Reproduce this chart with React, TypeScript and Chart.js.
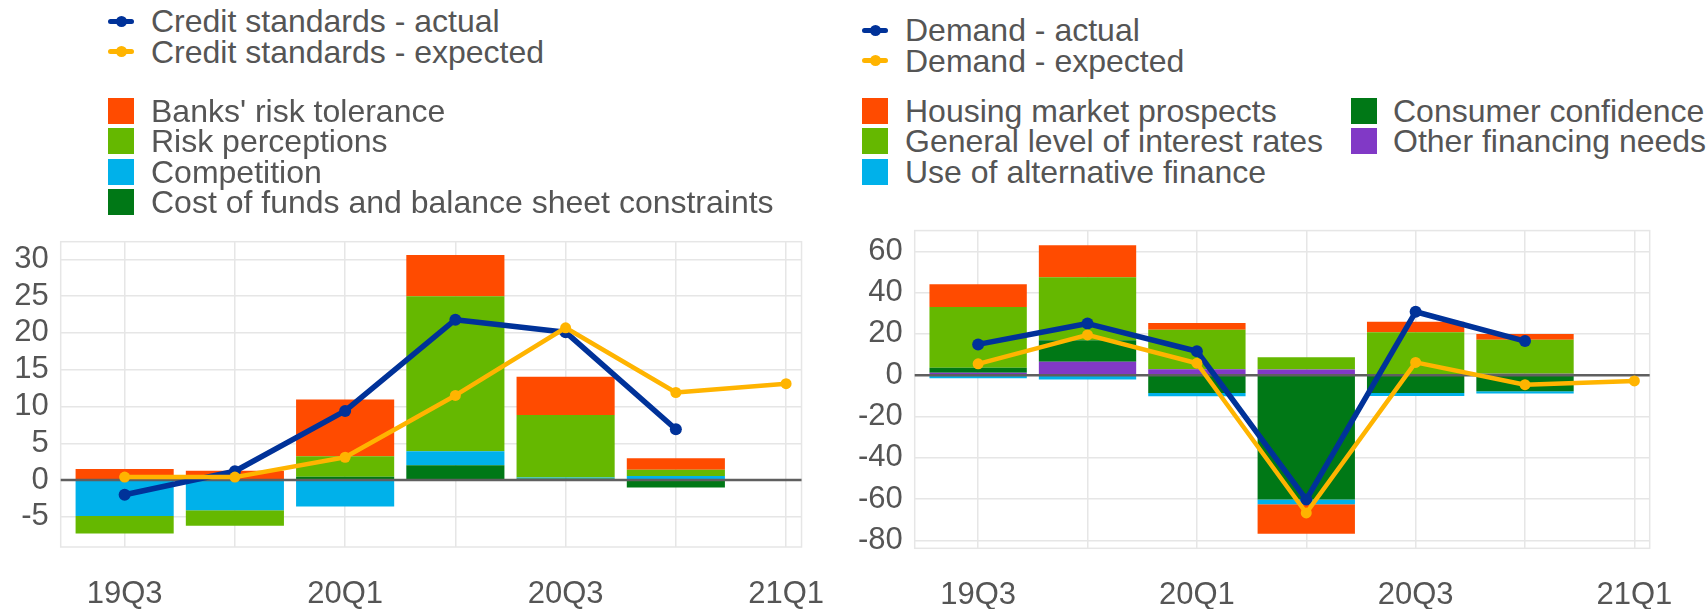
import React, { useEffect, useRef } from 'react';
import { Chart, registerables } from 'chart.js';

Chart.register(...registerables);

// ---------- data ----------
const quarters = ['19Q3', '19Q4', '20Q1', '20Q2', '20Q3', '20Q4', '21Q1'];
const tickLabels = ['19Q3', '', '20Q1', '', '20Q3', '', '21Q1'];

// Left panel: credit standards
const csActual = [-2.0, 1.2, 9.4, 21.8, 20.1, 6.9, null];
const csExpected = [0.4, 0.4, 3.1, 11.5, 20.7, 11.9, 13.1];
const costOfFunds = [0, 0, 0.45, 2.0, 0.2, -1.0, null];
const competition = [-4.9, -4.1, -3.6, 1.9, 0.15, 0.55, null];
const riskPerceptions = [-2.35, -2.1, 2.8, 21.1, 8.5, 0.85, null];
const riskTolerance = [1.5, 1.25, 7.7, 5.6, 5.2, 1.55, null];
const leftYTicks = [-5, 0, 5, 10, 15, 20, 25, 30];

// Right panel: demand
const demActual = [14.9, 25.0, 11.6, -60.2, 30.7, 16.5, null];
const demExpected = [5.5, 19.5, 5.8, -66.7, 6.2, -4.6, -2.75];
const otherNeeds = [1.2, 6.55, 2.9, 2.75, 0.3, 0.7, null];
const consumerConfidence = [2.46, 10.35, -8.6, -60.2, -8.6, -7.8, null];
const altFinance = [-1.5, -2.1, -1.6, -2.3, -1.5, -1.1, null];
const interestRates = [29.3, 30.55, 19.1, 5.95, 20.45, 16.4, null];
const housing = [11.1, 15.45, 3.3, -14.2, 5.15, 2.9, null];
const rightYTicks = [-80, -60, -40, -20, 0, 20, 40, 60];

// ---------- styles ----------
const FONT = '"Liberation Sans", Arial, Helvetica, sans-serif';
const TEXT = '#555555';
const GRID = '#e6e6e6';
const COL = {
  blue: '#003299',
  yellow: '#FFB400',
  orange: '#FF4B00',
  green: '#65B800',
  lightBlue: '#00B1EA',
  darkGreen: '#007816',
  purple: '#8139C6',
};

type Series = { label: string; color: string; values: (number | null)[] };

const pts = (values: (number | null)[]) => values.map((v, i) => ({ x: i, y: v }));

function drawZero(chart: any) {
  const { ctx, chartArea } = chart;
  const y = chart.scales.y.getPixelForValue(0);
  ctx.save();
  ctx.strokeStyle = '#5f5f5f';
  ctx.lineWidth = 2.5;
  ctx.beginPath();
  ctx.moveTo(chartArea.left, y);
  ctx.lineTo(chartArea.right, y);
  ctx.stroke();
  ctx.restore();
}

const framePlugin = {
  id: 'frameAndZero',
  beforeDatasetsDraw(chart: any) {
    chart.$zeroDone = false;
    const { ctx, chartArea: a } = chart;
    ctx.save();
    ctx.strokeStyle = GRID;
    ctx.lineWidth = 1.5;
    ctx.strokeRect(a.left, a.top, a.right - a.left, a.bottom - a.top);
    ctx.restore();
  },
  beforeDatasetDraw(chart: any, args: any) {
    if (chart.$zeroDone || args.meta.type !== 'line') return;
    drawZero(chart);
    chart.$zeroDone = true;
  },
  afterDatasetsDraw(chart: any) {
    if (!chart.$zeroDone) drawZero(chart);
  },
};

interface PanelSpec {
  actual: Series;
  expected: Series;
  bars: Series[];
  yTicks: number[];
  yMin: number;
  yMax: number;
  padTop: number;
  padRight: number;
  xAxisHeight: number;
}

function lineDs(s: Series, width: number, radius: number) {
  return {
    type: 'line',
    label: s.label,
    data: pts(s.values),
    borderColor: s.color,
    backgroundColor: s.color,
    borderWidth: width,
    pointRadius: radius,
    pointHoverRadius: radius,
    pointBackgroundColor: s.color,
    pointBorderWidth: 0,
    borderJoinStyle: 'round',
    borderCapStyle: 'round',
    tension: 0,
    fill: false,
    stack: 'line-' + s.label,
    order: 0,
  };
}

function buildChart(canvas: HTMLCanvasElement, spec: PanelSpec) {
  const datasets: any[] = [
    lineDs(spec.expected, 4.5, 5.5),
    lineDs(spec.actual, 5.5, 6),
    ...spec.bars.map((b) => ({
      type: 'bar',
      label: b.label,
      data: pts(b.values).filter((p) => p.y !== null),
      backgroundColor: b.color,
      borderWidth: 0,
      stack: 'bars',
      order: 1,
      categoryPercentage: 0.89,
      barPercentage: 1,
    })),
  ];
  const tickFont = { family: FONT, size: 31 };
  return new Chart(canvas, {
    type: 'bar',
    data: { datasets },
    options: {
      animation: false,
      responsive: false,
      maintainAspectRatio: false,
      events: [],
      layout: { padding: { top: spec.padTop, right: spec.padRight, left: 0, bottom: 0 } },
      plugins: { legend: { display: false }, tooltip: { enabled: false } },
      scales: {
        x: {
          type: 'linear',
          stacked: true,
          offset: false,
          min: -0.58,
          max: 6.14,
          grid: { color: GRID, lineWidth: 1.5, drawTicks: false, offset: false },
          border: { display: false },
          ticks: {
            autoSkip: false,
            maxRotation: 0,
            minRotation: 0,
            padding: 29,
            color: TEXT,
            font: tickFont,
            callback: (v: any) => tickLabels[Math.round(v)] ?? '',
          },
          afterBuildTicks: (s: any) => {
            s.ticks = quarters.map((_, i) => ({ value: i }));
          },
          afterFit: (s: any) => {
            s.height = spec.xAxisHeight;
          },
        },
        y: {
          type: 'linear',
          stacked: true,
          min: spec.yMin,
          max: spec.yMax,
          grid: { color: GRID, lineWidth: 1.5, drawTicks: false, offset: false },
          border: { display: false },
          ticks: {
            padding: 12,
            color: TEXT,
            font: tickFont,
            callback: (v: any) => String(Math.round(v)),
          },
          afterBuildTicks: (s: any) => {
            s.ticks = spec.yTicks.map((v) => ({ value: v }));
          },
          afterFit: (s: any) => {
            s.width = 60.7;
          },
        },
      },
    } as any,
    plugins: [framePlugin],
  } as any);
}

const leftSpec: PanelSpec = {
  actual: { label: 'Credit standards - actual', color: COL.blue, values: csActual },
  expected: { label: 'Credit standards - expected', color: COL.yellow, values: csExpected },
  bars: [
    { label: 'Cost of funds and balance sheet constraints', color: COL.darkGreen, values: costOfFunds },
    { label: 'Competition', color: COL.lightBlue, values: competition },
    { label: 'Risk perceptions', color: COL.green, values: riskPerceptions },
    { label: "Banks' risk tolerance", color: COL.orange, values: riskTolerance },
  ],
  yTicks: leftYTicks,
  yMin: -9.1,
  yMax: 32.4,
  padTop: 41.7,
  padRight: 47.3,
  xAxisHeight: 62,
};

const rightSpec: PanelSpec = {
  actual: { label: 'Demand - actual', color: COL.blue, values: demActual },
  expected: { label: 'Demand - expected', color: COL.yellow, values: demExpected },
  bars: [
    { label: 'Other financing needs', color: COL.purple, values: otherNeeds },
    { label: 'Consumer confidence', color: COL.darkGreen, values: consumerConfidence },
    { label: 'Use of alternative finance', color: COL.lightBlue, values: altFinance },
    { label: 'General level of interest rates', color: COL.green, values: interestRates },
    { label: 'Housing market prospects', color: COL.orange, values: housing },
  ],
  yTicks: rightYTicks,
  yMin: -83.8,
  yMax: 70,
  padTop: 12.7,
  padRight: 58.3,
  xAxisHeight: 60.7,
};

// ---------- legend pieces ----------
const LEGEND_FONT = 32;

function LineKey(props: { x: number; y: number; textX: number; s: Series }) {
  const { x, y, textX, s } = props;
  return (
    <>
      <div style={{ position: 'absolute', left: x, top: y - 2.5, width: 26, height: 5, background: s.color, borderRadius: 2.5 }} />
      <div style={{ position: 'absolute', left: x + 7.5, top: y - 5.5, width: 11, height: 11, borderRadius: '50%', background: s.color }} />
      <div style={{ position: 'absolute', left: textX, top: y - 18, lineHeight: '36px', fontSize: LEGEND_FONT, color: TEXT, whiteSpace: 'nowrap' }}>
        {s.label}
      </div>
    </>
  );
}

function BoxKey(props: { x: number; y: number; textX: number; s: Series }) {
  const { x, y, textX, s } = props;
  return (
    <>
      <div style={{ position: 'absolute', left: x, top: y - 13, width: 26, height: 26, background: s.color }} />
      <div style={{ position: 'absolute', left: textX, top: y - 18, lineHeight: '36px', fontSize: LEGEND_FONT, color: TEXT, whiteSpace: 'nowrap' }}>
        {s.label}
      </div>
    </>
  );
}

export default function App() {
  const leftRef = useRef<HTMLCanvasElement>(null);
  const rightRef = useRef<HTMLCanvasElement>(null);

  useEffect(() => {
    const a = buildChart(leftRef.current as HTMLCanvasElement, leftSpec);
    const b = buildChart(rightRef.current as HTMLCanvasElement, rightSpec);
    return () => {
      a.destroy();
      b.destroy();
    };
  }, []);

  const lb = leftSpec.bars;
  const rb = rightSpec.bars;

  return (
    <div style={{ position: 'absolute', left: 0, top: 0, width: 1708, height: 609, background: '#fff', overflow: 'hidden', fontFamily: FONT }}>
      <canvas ref={leftRef} width={854} height={409} style={{ position: 'absolute', left: 0, top: 200, width: 854, height: 409 }} />
      <canvas ref={rightRef} width={854} height={409} style={{ position: 'absolute', left: 854, top: 200, width: 854, height: 409 }} />

      {/* left legend */}
      <LineKey x={108} y={21} textX={151} s={leftSpec.actual} />
      <LineKey x={108} y={51.5} textX={151} s={leftSpec.expected} />
      <BoxKey x={108} y={111} textX={151} s={lb[3]} />
      <BoxKey x={108} y={141.3} textX={151} s={lb[2]} />
      <BoxKey x={108} y={171.6} textX={151} s={lb[1]} />
      <BoxKey x={108} y={201.9} textX={151} s={lb[0]} />

      {/* right legend */}
      <LineKey x={862} y={30} textX={905} s={rightSpec.actual} />
      <LineKey x={862} y={60.5} textX={905} s={rightSpec.expected} />
      <BoxKey x={862} y={111} textX={905} s={rb[4]} />
      <BoxKey x={862} y={141.3} textX={905} s={rb[3]} />
      <BoxKey x={862} y={171.6} textX={905} s={rb[2]} />
      <BoxKey x={1351} y={111} textX={1393} s={rb[1]} />
      <BoxKey x={1351} y={141.3} textX={1393} s={rb[0]} />
    </div>
  );
}
